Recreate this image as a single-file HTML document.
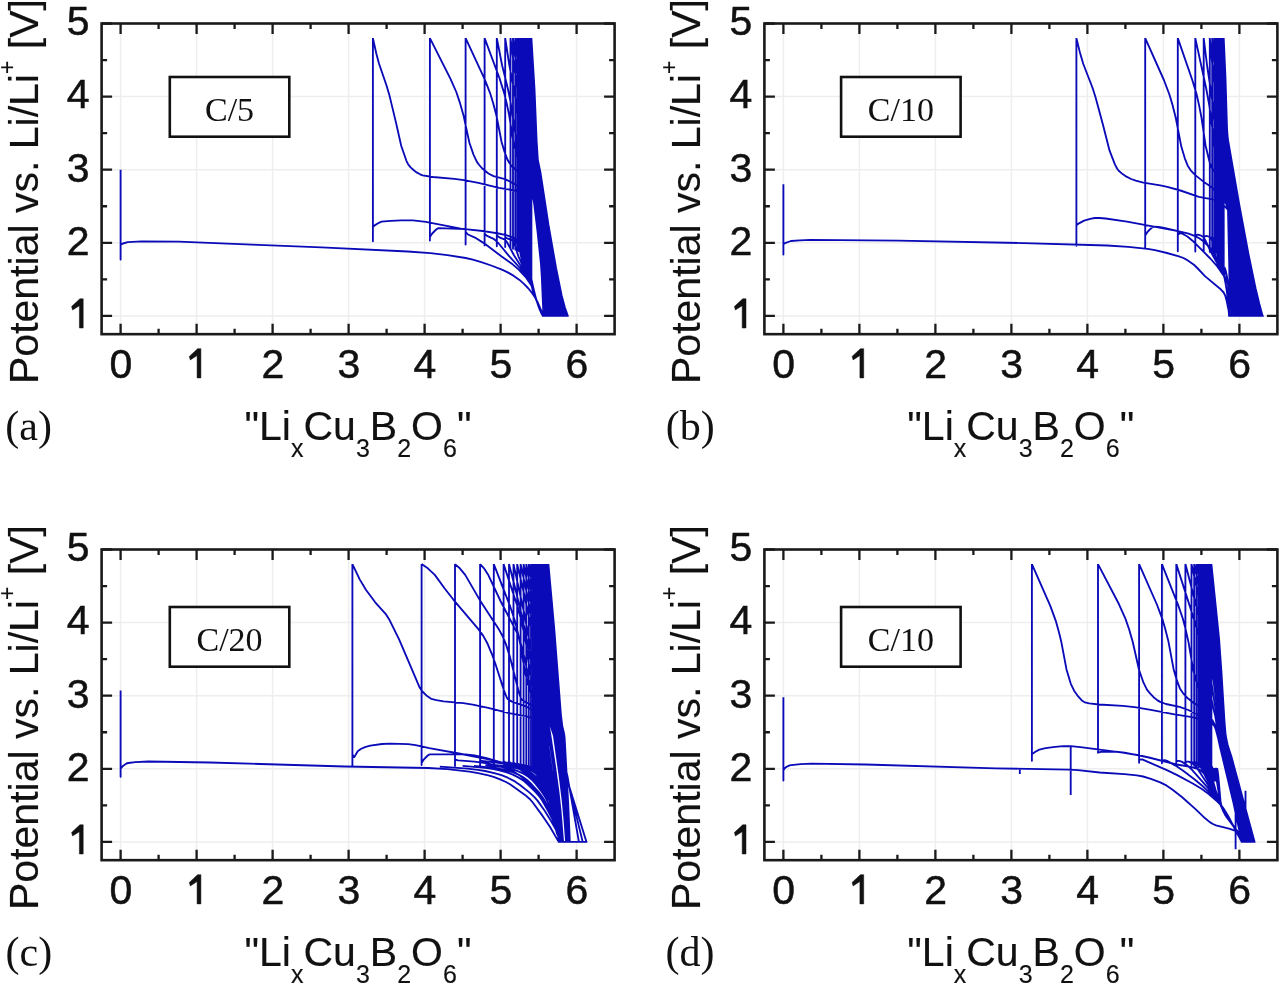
<!DOCTYPE html>
<html><head><meta charset="utf-8"><style>
html,body{margin:0;padding:0;background:#fff;width:1280px;height:984px;overflow:hidden}
svg{display:block;filter:blur(0.5px)}
.tk{font-family:"Liberation Sans", sans-serif;font-size:41px;fill:#111;stroke:#111;stroke-width:0.5px}
.ax{font-family:"Liberation Sans", sans-serif;font-size:41px;fill:#111;stroke:#111;stroke-width:0.15px}
.pl{font-family:"Liberation Serif", serif;font-size:42px;fill:#111}
.bt{font-family:"Liberation Serif", serif;font-size:34px;fill:#111}
</style></head><body>
<svg width="1280" height="984" viewBox="0 0 1280 984">
<path d="M120.60 23.50V334.17M196.60 23.50V334.17M272.60 23.50V334.17M348.60 23.50V334.17M424.60 23.50V334.17M500.60 23.50V334.17M576.60 23.50V334.17M101.60 315.90H614.60M101.60 242.80H614.60M101.60 169.70H614.60M101.60 96.60H614.60" stroke="#eeeeee" stroke-width="1.5" fill="none"/>
<path d="M120.6 169.7L120.6 259.6L120.6 245.0L122.9 243.5L127.7 242.1L141.8 241.3L178.6 241.6L321.5 247.4L407.7 251.5L430.4 253.2L447.4 255.1L465.7 258.0L472.8 259.7L481.3 262.1L491.2 265.5L502.5 269.9L508.2 272.6L513.8 275.9L519.5 279.9L523.7 283.6L528.0 288.0L532.2 293.3L535.1 297.4L537.9 302.8L543.5 315.9L541.8 276.8L541.0 264.4L537.5 231.1L534.1 202.9L533.3 198.9L529.0 195.8L524.7 193.5L520.4 191.8L515.2 190.5L499.0 187.8L478.4 182.9L463.8 180.1L454.4 178.8L432.9 177.0L422.6 175.3L420.1 174.3L416.6 172.4L414.1 170.5L410.6 167.4L408.1 164.2L406.4 160.8L401.2 145.8L395.7 121.4L389.2 94.4L386.6 85.7L378.9 63.3L376.3 53.5L372.9 38.1M372.9 38.1L372.9 241.3L372.9 226.7L374.6 225.4L378.9 222.8L381.5 221.7L390.8 220.8L401.1 220.3L413.0 220.3L425.8 221.8L460.8 228.6L487.3 231.7L498.4 233.5L506.1 235.1L512.9 237.3L517.2 239.7L520.6 242.8L523.1 246.3L524.9 250.4L528.3 262.5L530.8 278.5L534.2 293.2L538.5 306.4L541.1 312.7L542.8 315.9L543.9 315.9L541.6 269.1L538.2 235.2L534.2 203.6L533.3 198.9L530.7 195.0L527.9 192.1L525.6 190.5L520.4 187.8L511.8 182.4L505.0 179.2L493.5 176.1L488.4 173.5L482.6 168.8L479.2 165.0L476.9 161.9L473.5 154.6L469.4 142.7L463.4 114.9L459.7 102.1L456.3 92.0L450.5 78.8L429.9 38.1M429.9 38.1L429.9 240.6L429.9 237.0L432.2 233.5L436.2 229.5L437.9 228.4L439.0 228.2L465.1 229.1L482.7 231.0L498.0 233.4L505.3 234.9L512.2 237.0L516.7 239.4L519.5 241.7L522.4 244.9L523.5 247.0L525.2 251.4L528.0 261.4L530.9 278.7L534.3 293.3L538.8 307.2L541.1 312.7L542.8 315.9L545.1 315.9L543.5 283.2L542.3 266.5L539.9 244.5L537.5 226.0L533.9 201.6L532.3 194.6L529.1 185.5L526.2 179.4L521.6 174.5L514.8 169.0L512.0 166.4L509.2 162.8L507.2 159.0L504.4 151.4L501.6 142.0L496.4 115.5L493.2 103.2L490.0 92.8L484.4 78.6L465.6 38.1M465.6 38.1L465.6 244.5L465.6 231.8L468.0 234.5L476.1 238.2L485.8 244.4L501.3 256.3L512.9 264.6L518.7 269.5L525.7 277.1L531.9 286.2L533.1 289.1L536.6 300.5L542.8 315.9L546.3 315.9L543.7 272.5L542.5 260.7L539.8 238.4L533.3 196.5L530.8 177.6L529.9 174.7L528.0 171.6L526.1 169.7L522.4 166.8L520.6 164.6L519.0 161.9L517.5 157.8L513.4 142.2L509.1 114.9L506.6 102.9L504.1 92.9L499.5 78.2L484.6 38.1M484.6 38.1L484.6 245.4L484.6 233.7L487.0 235.9L493.1 238.6L495.7 240.6L498.7 243.5L508.9 255.8L520.9 269.0L526.7 277.0L532.0 286.4L536.6 300.7L542.8 315.9L547.4 315.9L545.3 282.2L543.8 265.3L541.5 247.1L534.7 201.8L533.7 197.4L532.1 194.3L530.3 192.0L526.3 188.2L524.5 185.5L523.2 182.4L521.7 176.7L518.4 159.1L514.9 130.5L510.5 101.6L508.0 89.2L502.1 65.2L496.8 38.1M496.8 38.1L496.8 246.2L496.8 235.5L499.3 237.3L504.4 239.4L505.8 240.6L507.2 242.5L514.1 255.5L524.8 272.2L529.6 281.2L532.4 287.5L537.9 304.2L542.8 315.9L548.4 315.9L546.0 280.3L543.4 256.7L539.5 229.6L534.3 198.2L532.3 193.2L528.4 188.0L526.9 185.2L525.8 182.1L524.5 175.8L521.9 158.0L519.3 130.8L515.8 101.1L513.9 88.9L509.3 65.0L505.2 38.1M505.2 38.1L505.2 247.1L505.2 237.3L507.8 238.7L512.0 240.2L512.9 240.9L513.7 242.0L518.4 256.3L530.5 282.7L537.1 302.0L542.8 315.9L549.4 315.9L547.5 288.0L545.7 269.6L541.4 238.6L534.8 198.7L533.0 193.0L529.7 187.5L528.5 184.9L527.5 181.6L526.5 176.2L524.4 158.9L522.0 129.7L519.1 99.6L513.8 64.4L510.5 38.1M510.5 38.1L510.5 247.9L510.5 239.1L516.2 240.9L518.3 242.3L519.1 245.5L520.9 256.1L523.1 263.9L531.1 284.1L537.9 304.1L542.8 315.9L550.4 315.9L547.2 276.6L542.5 242.6L535.2 199.0L533.5 192.7L530.3 186.7L529.2 183.9L527.5 175.5L525.4 156.9L523.4 129.0L520.9 100.5L516.0 64.3L513.0 38.1M513.0 38.1L513.0 248.8L513.0 241.0L517.8 241.7L520.7 243.4L522.3 257.4L524.8 267.8L526.6 273.0L531.1 284.1L537.4 302.8L542.8 315.9L551.4 315.9L548.8 285.7L547.0 269.6L543.9 248.4L535.8 200.0L534.0 192.3L530.0 183.3L528.5 175.9L526.5 156.6L524.7 128.9L522.4 99.5L518.0 64.1L515.3 38.1M515.3 38.1L515.3 249.6L515.3 242.8L517.5 242.6L519.7 242.8L521.4 243.5L522.9 244.7L523.5 258.7L524.7 265.9L526.1 272.0L527.6 276.4L531.0 283.8L536.7 300.9L542.8 315.9L552.3 315.9L550.7 297.5L547.3 267.8L540.1 222.6L535.0 194.4L533.8 190.3L530.8 183.1L529.4 176.0L527.5 155.7L523.6 98.1L519.7 63.9L517.3 38.1M517.3 38.1L517.3 250.5L517.3 244.6L518.7 243.9L519.6 243.9L520.0 244.2L521.0 247.0L523.4 257.5L523.9 258.8L524.5 259.4L524.8 246.4L524.9 246.1L525.1 246.2L525.6 247.1L527.1 254.3L530.3 278.1L531.8 285.9L533.7 292.4L536.9 301.4L542.8 315.9L553.1 315.9L549.4 278.8L544.0 243.2L535.6 195.2L534.4 190.4L531.4 182.2L530.2 175.7L528.4 156.8L524.8 98.4L521.2 63.6L519.0 38.1M519.0 38.1L519.0 251.3L519.0 246.5L520.1 245.4L521.5 245.4L522.5 248.3L524.5 258.4L525.4 260.1L526.4 248.3L526.6 247.4L527.0 248.0L528.2 254.8L530.6 277.9L531.8 285.9L534.3 294.5L539.3 307.7L542.8 315.9L554.0 315.9L550.1 280.1L544.9 245.7L536.0 195.0L534.6 189.3L532.0 181.6L530.8 175.0L529.1 154.6L525.9 98.3L522.6 63.4L520.5 38.1M520.5 38.1L520.5 252.2L520.5 248.3L527.1 270.9L534.5 294.5L538.6 306.0L542.8 315.9L554.8 315.9L550.8 281.2L545.5 246.9L536.3 194.3L534.9 188.5L532.5 180.9L531.5 175.2L529.8 154.3L526.8 97.9L521.9 38.1M521.9 38.1L521.9 253.0L521.9 250.1L528.1 273.4L534.5 294.5L538.7 306.1L542.8 315.9L555.5 315.9L551.5 282.2L546.1 247.9L536.6 194.1L535.3 188.0L533.0 180.6L532.0 175.0L530.4 153.1L527.6 97.0L523.1 38.1M523.1 38.1L523.1 253.0L523.1 250.1L528.0 272.0L533.1 290.3L537.9 304.2L542.8 315.9L556.3 315.9L552.1 283.0L546.7 249.6L536.9 193.5L535.6 187.3L533.5 180.0L532.5 174.3L531.1 154.1L528.3 95.6L524.1 38.1M524.1 38.1L524.1 253.0L524.1 250.1L528.3 271.8L532.5 288.4L537.6 303.3L542.8 315.9L557.0 315.9L552.7 283.7L547.2 250.0L537.2 193.4L535.8 186.2L533.9 179.2L533.1 174.6L531.6 154.3L529.0 96.2L525.0 38.1M525.0 38.1L525.0 253.0L525.0 250.1L528.8 272.4L532.3 287.7L537.5 303.1L542.8 315.9L557.7 315.9L553.2 284.3L547.8 251.2L537.5 192.9L536.1 185.6L534.2 178.2L533.4 173.0L531.9 150.4L529.7 96.6L525.8 38.1M525.8 38.1L525.8 253.0L525.8 250.1L529.2 272.9L532.2 287.7L537.6 303.3L542.8 315.9L558.3 315.9L553.7 284.8L548.1 251.3L537.7 192.1L536.3 184.7L534.5 177.6L533.7 172.5L532.5 152.4L530.1 94.5L526.5 38.1M526.5 38.1L526.5 253.0L526.5 250.1L529.6 273.9L532.2 287.6L533.9 293.3L537.6 303.2L542.8 315.9L559.0 315.9L554.0 284.2L547.8 247.5L537.7 190.1L534.2 172.8L532.8 150.1L530.6 94.2L527.2 38.1M527.2 38.1L527.2 253.0L527.2 250.1L529.8 274.3L532.1 287.4L534.4 294.7L539.4 308.0L542.8 315.9L559.6 315.9L547.1 241.7L538.0 189.6L534.4 171.6L533.2 150.7L531.1 95.2L527.7 38.1M527.7 38.1L527.7 253.0L527.7 250.1L530.4 277.6L532.1 287.5L534.2 294.4L539.5 308.1L542.8 315.9L560.2 315.9L538.6 191.5L534.8 171.2L533.5 150.6L531.4 94.0L528.2 38.1M528.2 38.1L528.2 253.0L528.2 250.1L530.6 278.0L532.1 287.4L534.1 294.1L542.8 315.9L560.7 315.9L538.3 187.7L535.0 170.4L533.8 149.9L531.7 93.2L528.6 38.1M528.6 38.1L528.6 253.0L528.6 250.1L530.8 279.0L532.1 287.6L534.0 293.9L542.8 315.9L561.3 315.9L535.3 169.7L534.0 148.6L532.1 93.7L529.0 38.1M529.0 38.1L529.0 253.0L529.0 250.1L530.9 279.1L532.1 287.7L533.9 294.0L542.8 315.9L561.8 315.9L554.4 276.9L535.5 168.9L534.3 149.0L532.3 92.6L529.3 38.1M529.3 38.1L529.3 256.0L531.1 280.3L532.2 288.3L533.9 294.0L542.8 315.9L562.3 315.9L554.4 275.1L535.7 168.2L534.5 148.4L532.6 92.3L529.6 38.1M529.6 38.1L529.6 259.6L531.3 282.1L532.4 289.0L533.9 294.1L542.8 315.9L562.7 315.9L558.4 295.2L554.5 274.2L535.9 167.5L534.7 145.8L532.9 93.0L529.9 38.1M529.9 38.1L529.9 262.7L531.4 282.9L532.5 289.6L534.0 294.2L542.8 315.9L563.2 315.9L558.7 295.0L554.6 273.1L536.1 167.0L534.9 146.8L533.0 91.7L530.1 38.1M530.1 38.1L530.1 265.5L531.4 283.5L532.7 290.1L534.0 294.3L542.8 315.9L563.6 315.9L559.1 295.6L554.9 273.9L536.3 166.8L535.1 146.7L533.2 91.4L530.3 38.1M530.3 38.1L530.3 268.0L531.6 284.5L532.8 290.5L533.9 294.2L542.8 315.9L564.1 315.9L558.8 292.9L553.8 266.3L536.4 165.5L535.3 146.1L533.4 91.2L530.5 38.1M530.5 38.1L530.5 270.1L531.6 284.7L532.8 290.9L533.9 294.3L542.8 315.9L564.5 315.9L559.2 293.4L553.9 266.0L546.8 225.3L539.1 178.6L536.6 164.9L535.4 144.2L533.5 90.9L530.6 38.1M530.6 38.1L530.6 272.0L531.6 284.8L532.9 291.1L534.0 294.4L542.8 315.9L564.9 315.9L559.4 293.1L554.2 266.5L547.0 225.6L539.3 178.2L536.8 164.6L535.6 144.3L533.7 90.9L530.8 38.1M530.8 38.1L530.8 273.7L531.7 285.3L533.0 291.6L542.8 315.9L565.2 315.9L559.7 293.6L554.5 267.0L547.3 225.8L539.5 177.7L536.9 164.2L535.7 144.2L533.8 90.9L530.9 38.1M530.9 38.1L530.9 275.2L531.7 285.7L533.0 291.7L542.8 315.9L565.6 315.9L560.0 294.0L554.8 267.5L547.3 225.0L539.7 177.3L537.1 163.7L535.9 144.0L533.9 90.8L531.0 38.1M531.0 38.1L531.0 276.4L531.7 285.5L533.1 292.0L542.8 315.9L565.9 315.9L563.3 306.7L560.3 294.5L554.9 267.0L547.5 225.1L539.8 176.7L537.1 162.6L536.0 143.6L534.1 90.7L531.1 38.1M531.1 38.1L531.1 277.6L534.2 291.8L536.2 299.4L539.8 309.9L542.8 315.9L566.3 315.9L563.6 306.9L560.6 294.8L555.2 267.4L547.7 225.2L540.0 176.2L537.3 162.0L536.1 143.2L534.2 90.5L531.2 38.1M531.2 38.1L531.2 278.6L534.3 292.3L536.2 299.6L539.8 309.8L542.8 315.9L566.6 315.9L563.9 307.1L560.9 295.2L555.4 267.8L547.9 225.3L540.1 175.7L537.4 161.5L536.2 142.7L534.3 90.2L531.2 38.1M531.2 38.1L531.2 279.5L536.3 299.7L539.8 309.8L542.8 315.9L566.9 315.9L564.2 307.3L561.2 295.5L555.6 268.2L548.1 225.4L540.2 175.1L537.5 161.0L536.3 142.3L534.3 90.0L531.3 38.1M531.3 38.1L531.3 280.2L536.3 299.8L539.8 309.8L542.8 315.9L567.2 315.9L564.5 307.5L561.4 295.9L555.8 268.5L548.3 225.5L540.4 174.5L537.6 160.5L536.4 141.7L534.4 89.7L531.4 38.1M531.4 38.1L531.4 280.9L536.4 299.9L539.8 309.6L542.8 315.9L567.5 315.9L564.8 307.6L561.7 296.2L556.1 268.8L548.4 225.5L540.5 173.9L537.7 160.1L536.5 141.1L534.5 89.4L531.4 38.1M531.4 38.1L531.4 281.5L536.4 300.2L539.9 309.7L542.8 315.9L567.8 315.9L564.8 307.2L561.7 295.7L556.1 268.2L548.4 224.4L540.6 173.3L537.8 159.6L536.6 140.5L534.5 89.1L531.4 38.1M531.4 38.1L531.4 282.1L536.5 300.4L539.9 309.7L542.8 315.9L568.0 315.9" fill="none" stroke="#0a0ab8" stroke-width="1.85" stroke-linejoin="round"/>
<path d="M120.60 334.17v-10.5M120.60 23.50v10.5M158.60 334.17v-5.5M158.60 23.50v5.5M196.60 334.17v-10.5M196.60 23.50v10.5M234.60 334.17v-5.5M234.60 23.50v5.5M272.60 334.17v-10.5M272.60 23.50v10.5M310.60 334.17v-5.5M310.60 23.50v5.5M348.60 334.17v-10.5M348.60 23.50v10.5M386.60 334.17v-5.5M386.60 23.50v5.5M424.60 334.17v-10.5M424.60 23.50v10.5M462.60 334.17v-5.5M462.60 23.50v5.5M500.60 334.17v-10.5M500.60 23.50v10.5M538.60 334.17v-5.5M538.60 23.50v5.5M576.60 334.17v-10.5M576.60 23.50v10.5M101.60 315.90h10.5M614.60 315.90h-10.5M101.60 279.35h5.5M614.60 279.35h-5.5M101.60 242.80h10.5M614.60 242.80h-10.5M101.60 206.25h5.5M614.60 206.25h-5.5M101.60 169.70h10.5M614.60 169.70h-10.5M101.60 133.15h5.5M614.60 133.15h-5.5M101.60 96.60h10.5M614.60 96.60h-10.5M101.60 60.05h5.5M614.60 60.05h-5.5M101.60 23.50h10.5M614.60 23.50h-10.5" stroke="#1a1a1a" stroke-width="2.3" fill="none"/>
<rect x="101.60" y="23.50" width="513.00" height="310.67" stroke="#1a1a1a" stroke-width="2.6" fill="none"/>
<path d="M83.20 298.80L83.20 328.00L79.40 328.00L79.40 305.70L72.60 310.00L71.60 306.50L79.90 298.80Z" fill="#111" stroke="#111" stroke-width="0.5" stroke-linejoin="round"/>
<text x="89.60" y="254.60" text-anchor="end" class="tk">2</text>
<text x="89.60" y="181.50" text-anchor="end" class="tk">3</text>
<text x="89.60" y="108.40" text-anchor="end" class="tk">4</text>
<text x="89.60" y="35.30" text-anchor="end" class="tk">5</text>
<text x="120.90" y="377.60" text-anchor="middle" class="tk">0</text>
<path d="M200.90 348.70L200.90 377.90L197.10 377.90L197.10 355.60L190.30 359.90L189.30 356.40L197.60 348.70Z" fill="#111" stroke="#111" stroke-width="0.5" stroke-linejoin="round"/>
<text x="272.90" y="377.60" text-anchor="middle" class="tk">2</text>
<text x="348.90" y="377.60" text-anchor="middle" class="tk">3</text>
<text x="424.90" y="377.60" text-anchor="middle" class="tk">4</text>
<text x="500.90" y="377.60" text-anchor="middle" class="tk">5</text>
<text x="576.90" y="377.60" text-anchor="middle" class="tk">6</text>
<text transform="translate(37.50,384.00) rotate(-90)" class="ax">Potential vs. Li/Li<tspan dy="-23" font-size="23">+</tspan><tspan dy="23"> [V]</tspan></text>
<text x="244.50" y="440.00" class="ax">"Li<tspan dy="17" font-size="25">x</tspan><tspan dy="-17">Cu</tspan><tspan dy="17" font-size="25">3</tspan><tspan dy="-17">B</tspan><tspan dy="17" font-size="25">2</tspan><tspan dy="-17">O</tspan><tspan dy="17" font-size="25">6</tspan><tspan dy="-17">"</tspan></text>
<text x="5.30" y="440.00" class="pl">(a)</text>
<rect x="169.80" y="77.00" width="119.5" height="59.7" fill="#fff" stroke="#111" stroke-width="2.6"/>
<text x="229.55" y="120.60" text-anchor="middle" class="bt">C/5</text>
<path d="M783.40 23.50V334.17M859.40 23.50V334.17M935.40 23.50V334.17M1011.40 23.50V334.17M1087.40 23.50V334.17M1163.40 23.50V334.17M1239.40 23.50V334.17M764.40 315.90H1277.40M764.40 242.80H1277.40M764.40 169.70H1277.40M764.40 96.60H1277.40" stroke="#eeeeee" stroke-width="1.5" fill="none"/>
<path d="M783.4 184.3L783.4 254.5L783.4 244.3L785.7 242.8L790.9 241.0L799.8 240.3L810.3 239.9L898.3 240.7L1023.7 243.1L1107.3 245.5L1128.2 246.9L1147.6 248.9L1155.0 250.2L1167.0 253.0L1178.9 256.3L1183.4 258.0L1186.4 259.6L1193.9 264.8L1196.8 267.5L1205.2 276.4L1220.7 289.3L1223.7 292.5L1225.2 295.6L1226.7 301.0L1229.7 315.9L1229.3 268.5L1228.0 209.9L1225.1 206.6L1222.0 203.9L1218.9 201.9L1215.0 200.3L1211.2 199.2L1198.9 196.8L1180.4 190.5L1167.3 186.8L1160.3 185.3L1143.4 182.6L1135.7 180.7L1131.1 179.0L1126.5 176.7L1122.6 174.1L1118.7 170.8L1117.2 168.8L1114.9 164.4L1109.5 150.4L1102.9 124.5L1095.6 97.5L1092.6 88.0L1083.3 64.0L1080.2 53.6L1076.4 38.1M1076.4 38.1L1076.4 245.7L1076.4 225.3L1079.4 223.1L1084.1 220.6L1090.2 218.8L1094.8 218.0L1099.4 218.0L1105.6 218.5L1127.0 221.6L1175.4 230.6L1187.7 233.4L1195.4 236.2L1199.2 238.3L1203.0 241.0L1209.9 247.5L1212.3 250.6L1215.3 255.7L1221.5 268.2L1224.2 276.4L1226.1 286.0L1227.6 297.6L1229.1 315.9L1229.9 315.9L1229.5 265.3L1228.2 214.4L1228.0 209.9L1227.3 207.4L1226.1 203.8L1224.4 200.8L1219.7 196.7L1213.3 189.0L1209.9 185.9L1203.1 181.4L1195.0 174.9L1190.7 170.3L1187.7 165.7L1184.8 158.3L1181.3 146.6L1175.8 118.0L1172.4 104.5L1169.4 94.5L1163.9 80.0L1145.2 38.1M1145.2 38.1L1145.2 248.6L1145.2 235.5L1147.3 232.2L1149.8 229.5L1152.3 227.4L1154.0 226.7L1158.7 227.0L1164.2 227.8L1188.6 233.7L1196.2 236.6L1199.6 238.5L1203.4 241.3L1209.3 246.8L1212.7 251.3L1219.4 263.7L1222.8 271.8L1224.9 279.5L1226.6 289.7L1227.9 300.0L1229.1 315.9L1231.8 315.9L1231.3 278.7L1230.7 258.9L1229.1 225.8L1228.0 209.0L1226.7 199.3L1224.5 188.4L1222.3 181.5L1219.6 177.2L1214.7 172.3L1212.8 169.8L1211.2 166.8L1209.6 162.2L1205.5 145.2L1201.5 117.8L1199.0 104.9L1196.6 94.3L1192.2 79.7L1177.8 38.1M1177.8 38.1L1177.8 251.3L1177.8 234.8L1179.9 233.2L1182.0 233.5L1187.4 236.5L1192.5 240.7L1210.3 258.5L1217.3 266.4L1226.0 278.9L1227.1 281.1L1227.9 283.8L1228.4 288.2L1229.1 315.9L1233.7 315.9L1232.3 264.3L1230.8 239.5L1228.3 208.9L1227.5 205.4L1226.2 201.8L1222.3 196.3L1221.1 194.0L1219.0 186.2L1215.9 166.0L1212.9 132.7L1209.2 104.8L1206.1 88.0L1195.3 38.1M1195.3 38.1L1195.3 251.5L1195.3 236.2L1196.8 234.8L1198.0 234.6L1200.4 235.3L1203.3 237.0L1205.3 240.2L1210.8 251.9L1220.0 268.3L1224.4 276.8L1226.6 280.1L1227.8 283.5L1228.3 286.7L1229.1 315.9L1235.5 315.9L1234.0 271.0L1231.7 238.8L1228.1 205.6L1226.5 200.9L1223.5 196.2L1222.2 193.4L1221.1 189.3L1220.0 182.4L1217.9 164.5L1215.7 135.6L1212.8 105.1L1211.2 92.5L1207.2 66.5L1203.7 38.1M1203.7 38.1L1203.7 251.7L1203.7 237.7L1205.3 236.1L1206.9 236.0L1209.7 237.0L1211.3 238.1L1211.6 238.7L1213.8 250.2L1216.3 258.2L1218.9 264.7L1224.3 276.6L1226.8 280.7L1228.0 284.4L1228.5 291.8L1229.1 315.9L1237.3 315.9L1235.2 267.2L1232.6 238.8L1228.6 205.5L1227.3 200.1L1224.7 194.2L1223.7 191.3L1222.2 182.0L1220.5 163.9L1216.5 103.2L1212.4 65.9L1209.8 38.1M1209.8 38.1L1209.8 251.9L1209.8 239.1L1210.3 238.2L1211.8 237.3L1212.3 237.4L1212.7 238.0L1215.7 249.2L1216.9 251.5L1217.4 239.5L1217.8 239.9L1218.3 241.2L1219.7 247.9L1223.7 274.5L1224.8 277.8L1227.1 281.4L1228.2 285.3L1229.1 315.9L1239.0 315.9L1237.2 278.2L1236.2 263.7L1234.1 244.6L1229.0 205.6L1227.7 198.6L1224.3 188.9L1223.1 180.8L1221.5 160.8L1218.1 102.8L1214.5 65.6L1212.2 38.1M1212.2 38.1L1212.2 252.2L1212.2 240.6L1212.8 239.5L1214.0 238.7L1214.6 238.7L1214.9 239.2L1217.3 250.3L1218.2 252.3L1218.6 250.6L1219.6 241.4L1219.9 240.9L1220.2 241.6L1221.1 247.8L1224.0 275.3L1224.9 278.3L1227.2 281.7L1228.2 285.6L1229.1 315.9L1240.7 315.9L1239.7 297.3L1237.8 267.9L1233.9 235.3L1228.6 199.7L1227.5 195.0L1225.1 187.7L1223.9 180.1L1222.5 160.8L1219.4 101.7L1214.3 38.1M1214.3 38.1L1214.3 252.4L1214.3 242.1L1217.8 256.5L1221.4 268.6L1224.4 276.8L1226.8 280.7L1227.9 283.9L1228.4 288.8L1229.1 315.9L1242.3 315.9L1239.9 278.8L1237.4 255.1L1233.8 229.0L1229.5 201.5L1228.0 193.7L1225.5 184.7L1224.6 178.3L1223.1 156.7L1220.4 99.7L1215.9 38.1M1215.9 38.1L1215.9 252.6L1215.9 243.5L1219.0 258.0L1222.0 269.8L1224.4 276.9L1226.9 280.9L1228.1 284.8L1229.1 315.9L1243.9 315.9L1241.4 281.1L1238.8 258.4L1232.2 213.9L1228.7 193.9L1226.0 182.9L1225.1 176.6L1223.8 155.6L1221.4 98.5L1217.3 38.1M1217.3 38.1L1217.3 252.8L1217.3 245.0L1220.1 260.1L1222.6 271.2L1224.4 277.0L1226.9 281.1L1228.2 285.2L1229.1 315.9L1245.5 315.9L1242.6 281.6L1239.9 259.1L1233.3 216.3L1229.2 193.3L1226.4 180.3L1225.6 174.9L1224.3 155.0L1222.0 96.0L1218.5 38.1M1218.5 38.1L1218.5 253.0L1218.5 246.5L1220.9 261.9L1223.1 272.5L1224.4 277.1L1227.0 281.2L1228.2 285.2L1229.1 315.9L1247.0 315.9L1244.1 284.4L1241.2 261.3L1234.7 220.4L1229.2 189.6L1226.7 177.7L1225.8 171.8L1224.7 152.2L1222.7 94.7L1219.5 38.1M1219.5 38.1L1219.5 253.0L1219.5 246.5L1221.6 262.8L1223.4 273.4L1224.5 277.4L1227.0 281.3L1228.2 285.3L1229.1 315.9L1248.5 315.9L1245.4 285.5L1242.3 262.3L1235.5 220.6L1226.2 170.1L1225.1 150.0L1223.2 93.1L1220.3 38.1M1220.3 38.1L1220.3 253.0L1220.3 246.5L1222.3 265.5L1224.0 275.6L1225.0 278.4L1227.1 281.6L1228.2 285.2L1229.1 315.9L1249.9 315.9L1246.6 286.5L1243.2 262.9L1236.5 222.7L1227.2 172.6L1226.4 167.0L1225.3 145.6L1223.6 91.8L1220.9 38.1M1220.9 38.1L1220.9 253.0L1220.9 246.5L1222.7 266.0L1224.0 275.8L1225.0 278.5L1227.2 281.8L1228.2 285.5L1229.1 315.9L1251.4 315.9L1247.8 287.3L1244.3 264.3L1237.7 225.4L1227.4 169.5L1226.6 163.9L1225.6 144.7L1224.0 90.5L1221.5 38.1M1221.5 38.1L1221.5 253.0L1221.5 246.5L1223.0 266.8L1224.1 275.9L1225.0 278.7L1227.2 281.9L1228.2 285.4L1229.1 315.9L1252.7 315.9L1248.9 288.0L1245.2 264.5L1238.1 224.1L1226.9 162.3L1225.8 141.8L1224.3 89.0L1222.0 38.1M1222.0 38.1L1222.0 253.4L1222.0 247.0L1223.2 267.3L1224.1 276.1L1225.1 278.9L1227.2 281.9L1228.2 285.6L1229.1 315.9L1254.1 315.9L1246.1 265.5L1227.1 160.0L1226.2 143.6L1224.6 88.6L1222.3 38.1M1222.3 38.1L1222.3 257.3L1222.3 252.0L1223.4 269.4L1224.2 276.2L1225.1 279.0L1227.2 281.9L1228.2 285.4L1229.1 315.9L1255.4 315.9L1247.2 267.2L1227.3 157.0L1226.4 144.2L1224.8 87.5L1222.7 38.1M1222.7 38.1L1222.7 260.6L1222.7 256.1L1224.2 276.4L1225.1 279.1L1227.3 282.0L1228.2 285.5L1229.1 315.9L1256.7 315.9L1230.2 170.7L1227.3 153.6L1226.5 139.3L1225.0 85.5L1222.9 38.1M1222.9 38.1L1222.9 263.3L1222.9 259.6L1224.2 276.6L1225.1 279.2L1227.3 282.1L1228.2 285.6L1229.1 315.9L1257.9 315.9L1245.3 249.6L1227.5 151.2L1226.6 137.7L1225.1 83.9L1223.1 38.1M1223.1 38.1L1223.1 265.5L1223.1 262.4L1224.3 277.0L1225.2 279.4L1227.2 282.0L1228.2 285.3L1229.1 315.9L1259.1 315.9L1252.8 285.7L1246.5 252.7L1227.6 148.4L1226.7 135.2L1225.3 84.6L1223.3 38.1M1223.3 38.1L1223.3 267.4L1223.3 264.8L1224.0 274.5L1224.4 277.4L1225.2 279.5L1227.2 282.0L1228.2 285.3L1229.1 315.9L1260.3 315.9L1253.8 286.9L1247.4 253.9L1238.3 204.9L1227.7 145.3L1226.8 132.0L1225.3 81.2L1223.5 38.1M1223.5 38.1L1223.5 268.9L1223.5 266.8L1223.9 267.0L1224.8 268.1L1225.6 270.3L1226.9 276.3L1228.1 284.9L1229.1 315.9L1261.5 315.9L1254.6 287.3L1248.0 254.1L1238.8 204.9L1227.8 142.1L1226.8 128.1L1225.5 81.8L1223.6 38.1M1223.6 38.1L1223.6 270.2L1223.6 268.4L1224.1 268.7L1225.0 269.8L1225.7 271.8L1227.0 277.2L1228.2 285.2L1229.1 315.9L1262.6 315.9L1259.3 303.7L1255.6 288.4L1248.5 254.1L1239.3 204.9L1227.8 138.7L1227.0 128.5L1225.5 78.6L1223.7 38.1M1223.7 38.1L1223.7 271.2L1223.7 269.8L1224.3 270.1L1225.8 273.0L1227.0 277.9L1228.2 285.2L1229.1 315.9L1263.7 315.9" fill="none" stroke="#0a0ab8" stroke-width="1.85" stroke-linejoin="round"/>
<path d="M783.40 334.17v-10.5M783.40 23.50v10.5M821.40 334.17v-5.5M821.40 23.50v5.5M859.40 334.17v-10.5M859.40 23.50v10.5M897.40 334.17v-5.5M897.40 23.50v5.5M935.40 334.17v-10.5M935.40 23.50v10.5M973.40 334.17v-5.5M973.40 23.50v5.5M1011.40 334.17v-10.5M1011.40 23.50v10.5M1049.40 334.17v-5.5M1049.40 23.50v5.5M1087.40 334.17v-10.5M1087.40 23.50v10.5M1125.40 334.17v-5.5M1125.40 23.50v5.5M1163.40 334.17v-10.5M1163.40 23.50v10.5M1201.40 334.17v-5.5M1201.40 23.50v5.5M1239.40 334.17v-10.5M1239.40 23.50v10.5M764.40 315.90h10.5M1277.40 315.90h-10.5M764.40 279.35h5.5M1277.40 279.35h-5.5M764.40 242.80h10.5M1277.40 242.80h-10.5M764.40 206.25h5.5M1277.40 206.25h-5.5M764.40 169.70h10.5M1277.40 169.70h-10.5M764.40 133.15h5.5M1277.40 133.15h-5.5M764.40 96.60h10.5M1277.40 96.60h-10.5M764.40 60.05h5.5M1277.40 60.05h-5.5M764.40 23.50h10.5M1277.40 23.50h-10.5" stroke="#1a1a1a" stroke-width="2.3" fill="none"/>
<rect x="764.40" y="23.50" width="513.00" height="310.67" stroke="#1a1a1a" stroke-width="2.6" fill="none"/>
<path d="M746.00 298.80L746.00 328.00L742.20 328.00L742.20 305.70L735.40 310.00L734.40 306.50L742.70 298.80Z" fill="#111" stroke="#111" stroke-width="0.5" stroke-linejoin="round"/>
<text x="752.40" y="254.60" text-anchor="end" class="tk">2</text>
<text x="752.40" y="181.50" text-anchor="end" class="tk">3</text>
<text x="752.40" y="108.40" text-anchor="end" class="tk">4</text>
<text x="752.40" y="35.30" text-anchor="end" class="tk">5</text>
<text x="783.70" y="377.60" text-anchor="middle" class="tk">0</text>
<path d="M863.70 348.70L863.70 377.90L859.90 377.90L859.90 355.60L853.10 359.90L852.10 356.40L860.40 348.70Z" fill="#111" stroke="#111" stroke-width="0.5" stroke-linejoin="round"/>
<text x="935.70" y="377.60" text-anchor="middle" class="tk">2</text>
<text x="1011.70" y="377.60" text-anchor="middle" class="tk">3</text>
<text x="1087.70" y="377.60" text-anchor="middle" class="tk">4</text>
<text x="1163.70" y="377.60" text-anchor="middle" class="tk">5</text>
<text x="1239.70" y="377.60" text-anchor="middle" class="tk">6</text>
<text transform="translate(700.30,384.00) rotate(-90)" class="ax">Potential vs. Li/Li<tspan dy="-23" font-size="23">+</tspan><tspan dy="23"> [V]</tspan></text>
<text x="907.30" y="440.00" class="ax">"Li<tspan dy="17" font-size="25">x</tspan><tspan dy="-17">Cu</tspan><tspan dy="17" font-size="25">3</tspan><tspan dy="-17">B</tspan><tspan dy="17" font-size="25">2</tspan><tspan dy="-17">O</tspan><tspan dy="17" font-size="25">6</tspan><tspan dy="-17">"</tspan></text>
<text x="665.80" y="440.00" class="pl">(b)</text>
<rect x="841.10" y="77.00" width="119.5" height="59.7" fill="#fff" stroke="#111" stroke-width="2.6"/>
<text x="900.85" y="120.60" text-anchor="middle" class="bt">C/10</text>
<path d="M120.60 549.50V860.17M196.60 549.50V860.17M272.60 549.50V860.17M348.60 549.50V860.17M424.60 549.50V860.17M500.60 549.50V860.17M576.60 549.50V860.17M101.60 841.90H614.60M101.60 768.80H614.60M101.60 695.70H614.60M101.60 622.60H614.60" stroke="#eeeeee" stroke-width="1.5" fill="none"/>
<path d="M120.6 690.6L120.6 776.8L120.6 768.8L122.9 765.9L126.5 763.5L128.2 763.0L135.3 762.2L148.4 761.5L210.0 762.5L344.8 766.5L428.3 768.0L447.4 769.2L469.4 771.6L478.1 773.1L488.4 775.4L494.3 777.1L500.1 779.3L506.0 782.0L510.4 784.5L525.0 794.9L529.4 798.7L532.4 802.0L542.6 815.9L549.9 826.8L558.7 841.9L556.7 816.7L554.6 797.4L551.5 774.7L545.3 733.4L544.2 726.9L543.5 724.9L540.1 722.3L535.9 719.8L531.8 718.0L526.6 716.4L509.0 713.1L488.2 707.8L472.7 704.6L463.3 703.2L443.6 701.3L436.4 700.1L431.2 698.8L427.1 696.1L421.9 691.0L419.8 687.8L399.1 639.3L389.7 620.3L385.6 613.8L375.2 602.3L365.9 589.8L359.7 579.4L352.4 564.1M352.4 564.1L352.4 766.6L352.4 754.2L353.5 756.7L353.9 757.1L354.5 756.8L357.7 751.3L360.8 749.0L365.0 747.1L370.3 745.6L381.9 744.0L390.3 743.6L408.3 744.2L415.6 745.1L429.3 748.2L458.9 753.5L487.3 759.0L502.1 762.6L514.7 766.5L523.2 770.1L528.4 773.4L534.8 779.0L540.0 785.4L544.2 793.5L549.5 806.3L553.8 820.0L556.8 833.1L560.1 840.1L561.1 841.4L562.2 841.9L559.9 841.9L557.1 809.1L555.0 791.5L546.0 729.7L545.3 726.2L543.9 722.9L542.5 720.6L540.4 718.0L533.5 711.3L530.0 708.5L525.8 706.4L511.9 701.6L507.7 699.0L506.4 696.7L504.3 691.4L495.2 663.3L491.8 653.8L487.6 643.8L483.4 636.1L478.6 629.4L453.5 599.8L444.5 588.2L434.8 574.9L427.8 568.3L421.6 564.1M421.6 564.1L421.6 765.1L421.6 763.0L423.7 759.6L427.2 756.0L428.6 754.9L430.0 754.3L465.4 754.3L474.5 755.4L486.6 758.2L512.0 765.5L518.4 767.9L524.0 770.6L529.0 773.8L533.9 778.1L538.8 783.7L541.7 788.3L546.6 799.0L550.9 810.2L553.8 820.0L556.8 833.1L560.0 840.1L561.5 841.7L562.2 841.9L561.7 841.9L558.8 807.5L555.2 779.3L548.3 731.7L547.2 726.0L546.1 722.9L543.4 717.4L539.7 711.7L537.0 708.3L533.3 705.7L524.2 701.3L522.0 699.8L520.9 698.4L518.8 692.0L509.7 656.1L505.9 644.1L502.7 636.3L499.0 629.6L479.7 599.9L465.2 574.9L459.8 568.3L455.0 564.1M455.0 564.1L455.0 765.9L455.0 759.2L456.5 760.0L458.2 760.3L474.4 761.7L485.7 763.1L495.9 765.1L506.7 768.5L513.2 771.4L520.2 775.7L524.5 779.3L533.6 788.3L537.4 792.6L540.6 797.1L547.1 808.5L551.9 818.1L557.3 830.0L562.2 841.9L563.1 841.9L560.6 811.3L558.6 792.8L554.8 764.8L549.8 731.4L548.1 722.4L546.0 713.9L543.9 707.7L541.9 704.1L539.8 702.1L534.8 699.4L533.4 698.0L532.7 696.6L531.0 690.2L525.2 661.0L523.1 652.0L520.1 641.0L517.2 633.1L500.5 601.0L488.0 574.4L483.8 568.1L480.1 564.1M480.1 564.1L480.1 766.2L480.1 759.9L481.3 760.7L482.6 761.0L496.2 762.6L504.4 763.9L511.8 766.0L519.7 769.1L524.6 772.1L530.0 776.3L533.3 779.9L540.3 788.8L543.2 793.0L545.7 797.5L550.6 808.8L554.3 818.3L562.2 841.9L586.5 841.9L566.9 778.9L557.6 746.5L546.9 715.0L545.0 710.3L543.1 706.6L540.4 703.1L535.7 698.9L533.4 696.3L531.0 692.6L529.2 687.8L525.0 672.2L520.3 644.0L517.5 631.1L514.7 620.3L510.1 606.2L493.8 564.1M493.8 564.1L493.8 766.6L493.8 760.6L495.1 761.4L496.2 761.7L508.2 763.5L514.7 764.8L520.9 766.9L527.1 770.0L531.2 773.0L535.7 777.3L538.4 780.9L543.9 789.3L546.3 793.5L548.4 797.9L555.6 818.5L562.2 841.9L582.7 841.9L564.4 767.0L559.6 749.2L554.5 732.0L548.9 715.1L546.1 708.0L543.8 704.0L539.0 698.8L537.0 696.1L535.4 693.1L533.8 688.5L529.9 671.0L526.1 643.8L521.5 620.9L517.5 606.5L503.6 564.1M503.6 564.1L503.6 767.0L503.6 761.2L504.8 762.1L506.0 762.4L516.3 764.3L521.6 765.5L526.9 767.6L532.2 770.6L535.7 773.6L539.5 777.9L546.6 789.8L550.4 798.3L556.6 818.7L562.2 841.9L566.1 841.9L564.4 819.2L562.7 801.1L559.8 777.3L552.6 726.4L550.9 718.6L548.6 711.2L547.7 709.4L544.3 705.1L541.4 700.4L539.7 696.5L538.0 690.8L534.0 674.0L522.2 617.4L515.3 588.7L509.0 564.1M509.0 564.1L509.0 767.3L509.0 761.9L511.1 763.1L521.0 765.1L525.5 766.3L530.1 768.3L534.9 771.3L538.1 774.2L541.6 778.5L548.0 790.3L551.5 798.7L557.1 819.0L562.2 841.9L578.9 841.9L567.4 775.9L563.4 759.4L554.2 729.7L547.7 711.9L545.1 705.9L541.4 699.3L539.5 693.1L535.5 674.7L524.7 615.5L513.5 564.1M513.5 564.1L513.5 767.7L513.5 762.6L515.5 763.8L525.0 765.9L528.9 767.1L533.1 769.1L537.2 771.9L540.2 774.9L543.3 779.1L549.2 790.7L552.4 799.1L557.5 819.2L562.2 841.9L567.3 841.9L565.6 818.1L563.8 799.5L555.3 731.2L554.7 728.4L553.7 725.4L550.2 719.8L549.2 717.5L546.4 707.4L542.7 689.5L530.8 625.7L523.8 592.7L517.2 564.1M517.2 564.1L517.2 768.1L517.2 763.3L519.3 764.6L528.1 766.7L531.7 767.9L535.5 769.9L539.4 772.8L542.1 775.8L544.8 779.6L550.2 791.2L553.1 799.5L557.9 819.4L562.2 841.9L567.8 841.9L565.9 816.2L564.2 798.8L555.9 731.2L554.5 725.7L550.4 718.1L547.9 708.2L544.1 688.8L533.2 625.4L526.8 593.1L520.6 564.1M520.6 564.1L520.6 768.4L520.6 763.9L522.7 765.4L530.8 767.5L534.2 768.7L537.7 770.8L541.1 773.4L543.6 776.4L546.1 780.2L551.1 791.7L553.8 799.9L558.2 819.6L562.2 841.9L568.1 841.9L564.8 800.2L556.7 732.7L555.4 726.5L552.3 720.5L551.1 717.6L548.9 707.8L545.5 689.4L535.2 625.1L529.2 592.4L523.6 564.1M523.6 564.1L523.6 768.8L523.6 764.6L525.5 766.1L533.3 768.2L536.4 769.5L539.5 771.4L542.6 774.1L544.9 777.0L547.2 780.8L551.9 792.2L554.4 800.3L558.5 819.8L562.2 841.9L568.4 841.9L565.3 801.4L557.4 734.1L556.4 728.0L555.3 725.1L552.4 718.9L550.0 708.5L546.9 689.8L537.3 626.0L526.3 564.1M526.3 564.1L526.3 769.2L526.3 765.3L528.3 766.8L535.5 769.0L538.4 770.3L541.3 772.3L544.0 774.8L546.1 777.6L548.3 781.4L552.6 792.6L555.0 800.7L558.7 820.0L562.2 841.9L568.7 841.9L565.5 800.6L558.0 735.3L556.8 728.1L553.2 719.5L551.0 709.1L548.0 690.2L539.0 625.6L528.8 564.1M528.8 564.1L528.8 769.5L528.8 766.0L530.8 767.6L537.5 769.8L540.2 771.1L542.9 773.1L545.4 775.6L547.2 778.3L549.2 782.0L553.3 793.1L555.4 801.1L559.0 820.2L562.2 841.9L568.9 841.9L566.4 807.8L562.8 772.7L558.0 731.7L556.9 726.8L553.8 719.4L551.9 709.6L549.1 690.5L540.7 626.4L531.0 564.1M531.0 564.1L531.0 769.9L531.0 766.7L533.0 768.4L539.3 770.6L541.8 771.9L544.1 773.7L546.5 776.3L550.1 782.6L553.9 793.6L555.9 801.5L559.2 820.4L562.2 841.9L569.0 841.9L566.8 810.5L564.0 781.0L558.5 732.5L557.4 727.3L554.5 719.7L552.7 710.0L550.0 690.6L542.0 625.9L532.9 564.1M532.9 564.1L532.9 770.3L532.9 767.3L535.2 769.2L540.7 771.2L543.2 772.7L545.4 774.6L547.5 776.9L550.9 783.2L554.4 794.1L556.3 801.9L559.4 820.7L562.2 841.9L569.2 841.9L567.4 816.0L565.5 794.4L559.0 733.0L557.9 727.8L555.1 720.0L553.4 710.2L550.8 690.6L543.4 626.6L534.7 564.1M534.7 564.1L534.7 770.3L534.7 767.3L536.8 769.1L542.0 771.2L544.4 772.7L546.4 774.6L548.4 776.9L551.5 783.2L554.9 794.1L556.6 801.9L559.5 820.7L562.2 841.9L569.3 841.9L566.1 798.8L559.3 733.3L558.4 728.1L555.7 720.2L554.0 710.2L551.7 691.8L544.4 625.8L536.3 564.1M536.3 564.1L536.3 770.3L536.3 767.3L538.4 769.1L543.2 771.2L545.4 772.7L549.2 776.9L552.2 783.2L555.3 794.1L557.0 801.9L559.7 820.7L562.2 841.9L569.4 841.9L566.7 803.1L559.8 734.6L558.9 728.9L556.2 720.3L554.6 710.0L552.4 691.4L545.6 626.4L537.8 564.1M537.8 564.1L537.8 770.3L537.8 767.3L539.7 769.1L544.3 771.2L546.4 772.7L549.9 776.9L552.7 783.2L555.7 794.1L557.3 801.9L559.8 820.7L562.2 841.9L569.4 841.9L567.0 805.4L560.1 734.4L559.2 729.0L556.8 720.9L555.3 710.9L553.1 692.3L546.6 626.8L539.1 564.1M539.1 564.1L539.1 770.3L539.1 767.3L540.9 769.0L545.1 771.1L547.1 772.6L550.6 776.9L553.2 783.2L556.0 794.1L557.5 801.9L560.0 820.7L562.2 841.9L569.5 841.9L567.3 807.7L560.5 735.3L559.7 729.6L557.2 721.2L555.8 711.6L553.6 691.5L547.4 627.1L540.2 564.1M540.2 564.1L540.2 770.3L540.2 767.3L542.1 769.1L546.0 771.1L547.8 772.6L551.1 776.9L553.7 783.2L556.3 794.1L557.8 801.9L560.1 820.7L562.2 841.9L569.6 841.9L567.4 808.1L560.9 735.8L560.0 730.1L557.6 721.3L556.2 710.8L548.3 627.3L541.3 564.1M541.3 564.1L541.3 770.3L541.3 767.3L543.1 769.0L546.7 771.1L548.5 772.6L551.7 776.9L554.1 783.2L556.6 794.1L558.0 801.9L560.2 820.7L562.2 841.9L569.6 841.9L567.7 810.2L561.2 736.1L560.4 730.4L558.0 721.6L556.7 711.1L549.0 627.4L542.2 564.1M542.2 564.1L542.2 770.3L542.2 767.3L543.9 768.9L547.4 771.1L549.1 772.6L552.2 776.9L554.5 783.2L556.9 794.1L558.2 801.9L560.3 820.7L562.2 841.9L569.6 841.9L567.9 812.3L561.5 736.2L560.7 730.5L558.5 722.2L557.2 712.4L549.6 627.4L543.1 564.1M543.1 564.1L543.1 770.3L543.1 767.3L549.7 772.6L552.6 776.9L554.8 783.2L557.1 794.1L558.3 801.9L560.3 820.7L562.2 841.9L569.7 841.9L568.0 812.3L561.7 735.9L561.0 730.6L558.9 722.5L557.6 712.2L550.2 627.3L543.9 564.1M543.9 564.1L543.9 770.3L543.9 767.3L550.2 772.6L553.0 776.9L555.1 783.2L557.3 794.1L558.5 801.9L560.4 820.7L562.2 841.9L569.7 841.9L568.1 812.9L562.1 736.7L561.3 731.1L559.2 722.4L557.9 711.9L550.7 627.1L544.5 564.1M544.5 564.1L544.5 770.3L544.5 767.3L550.7 772.6L553.3 776.9L555.3 783.2L557.5 794.1L558.6 801.9L562.2 841.9L569.7 841.9L568.1 813.1L562.4 737.3L561.7 731.5L559.6 722.9L558.4 712.6L551.2 626.8L545.2 564.1M545.2 564.1L545.2 770.3L545.2 767.3L551.1 772.6L553.6 776.9L555.6 783.2L557.6 794.1L558.7 801.9L562.2 841.9L569.7 841.9L568.3 814.0L562.6 736.3L561.9 731.2L560.0 723.4L558.7 713.1L551.8 627.8L545.7 564.1M545.7 564.1L545.7 770.3L545.7 767.3L551.4 772.6L553.9 776.9L555.8 783.2L558.9 801.9L562.2 841.9L569.7 841.9L568.3 813.6L562.9 736.3L562.2 731.4L560.3 723.7L559.1 713.4L552.1 627.3L546.2 564.1M546.2 564.1L546.2 770.3L546.2 767.3L551.8 772.6L554.2 776.9L556.0 783.2L559.0 801.9L562.2 841.9L569.7 841.9L568.3 813.3L563.2 737.5L562.5 732.0L560.6 724.0L559.4 713.5L552.6 628.1L546.7 564.1M546.7 564.1L546.7 770.3L546.7 767.3L552.1 772.6L554.4 776.9L556.2 783.2L559.0 801.9L562.2 841.9L569.7 841.9L568.4 812.9L563.5 737.1L562.8 732.0L561.0 724.3L559.7 713.5L552.9 627.4L547.1 564.1M547.1 564.1L547.1 770.3L547.1 767.3L550.8 770.8L552.3 772.6L554.6 776.9L556.3 783.2L559.1 801.9L562.2 841.9L569.7 841.9L568.4 812.3L563.7 736.5L563.0 731.9L561.3 724.7L560.1 714.6L553.3 628.0L547.5 564.1M547.5 564.1L547.5 770.3L547.5 767.3L551.0 770.7L552.6 772.6L554.8 776.9L556.5 783.2L559.2 801.9L562.2 841.9L569.7 841.9L568.3 809.5L564.0 737.0L563.3 732.3L561.6 725.0L560.4 714.3L553.6 628.6L547.8 564.1M547.8 564.1L547.8 770.3L547.8 767.3L551.2 770.6L552.8 772.7L554.9 776.9L556.6 783.2L559.3 801.9L562.2 841.9L569.8 841.9L568.3 808.7L564.3 737.3L563.7 732.6L561.9 725.3L560.7 715.0L553.9 627.7L548.1 564.1M548.1 564.1L548.1 770.3L548.1 767.3L551.3 770.6L553.0 772.7L555.1 776.9L556.7 783.2L559.3 801.9L562.2 841.9L569.8 841.9L568.3 805.5L564.6 737.5L563.9 732.9L562.2 725.6L560.9 714.5L554.2 628.2L548.4 564.1M548.4 564.1L548.4 770.3L548.4 767.3L551.5 770.5L553.1 772.7L555.2 776.9L556.8 783.2L559.4 801.9L562.2 841.9L569.8 841.9M439.8 766.6L467.6 768.6L477.8 769.8L485.0 771.0L494.3 773.1L501.5 775.2L507.7 777.7L514.9 781.4L520.0 785.0L529.3 792.4L534.4 797.1L537.5 800.6L544.7 810.8L549.8 818.9L556.0 829.8L562.2 841.9M462.6 765.9L485.2 767.9L493.6 769.1L499.4 770.3L506.9 772.4L512.8 774.6L517.8 777.1L523.7 780.8L527.9 784.5L535.4 791.9L539.6 796.7L542.1 800.2L547.9 810.5L552.1 818.7L557.1 829.7L562.2 841.9M474.0 765.9L494.0 767.9L501.4 769.1L506.6 770.3L513.3 772.4L518.5 774.6L522.9 777.1L528.1 780.8L531.8 784.5L538.5 791.9L542.2 796.7L544.4 800.2L549.6 810.5L553.3 818.7L557.7 829.7L562.2 841.9M485.4 765.1L502.8 767.2L509.3 768.4L513.8 769.6L519.6 771.8L524.1 773.9L528.0 776.5L532.5 780.3L535.7 783.9L541.5 791.4L544.7 796.2L546.7 799.8L554.4 818.5L562.2 841.9M496.8 765.1L511.6 767.2L517.1 768.4L521.0 769.6L525.9 771.8L529.8 773.9L533.1 776.5L536.9 780.3L544.6 791.4L549.0 799.8L555.6 818.5L562.2 841.9M504.4 765.9L517.5 767.9L522.4 769.1L525.8 770.3L530.1 772.4L533.5 774.6L536.4 777.1L539.8 780.8L546.6 791.9L550.5 800.2L556.3 818.7L562.2 841.9M512.0 765.9L523.4 767.9L527.6 769.1L530.5 770.3L534.3 772.4L537.3 774.6L539.8 777.1L542.8 780.8L548.7 791.9L552.0 800.2L557.1 818.7L562.2 841.9M519.6 766.6L529.3 768.6L532.8 769.8L535.3 771.0L538.6 773.1L541.1 775.2L543.2 777.7L545.7 781.4L550.7 792.4L553.6 800.6L557.9 818.9L562.2 841.9M524.9 767.3L533.4 769.3L536.5 770.5L538.7 771.7L541.5 773.8L543.7 775.9L547.8 782.0L552.1 792.9L554.6 801.0L558.4 819.1L562.2 841.9" fill="none" stroke="#0a0ab8" stroke-width="1.85" stroke-linejoin="round"/>
<path d="M120.60 860.17v-10.5M120.60 549.50v10.5M158.60 860.17v-5.5M158.60 549.50v5.5M196.60 860.17v-10.5M196.60 549.50v10.5M234.60 860.17v-5.5M234.60 549.50v5.5M272.60 860.17v-10.5M272.60 549.50v10.5M310.60 860.17v-5.5M310.60 549.50v5.5M348.60 860.17v-10.5M348.60 549.50v10.5M386.60 860.17v-5.5M386.60 549.50v5.5M424.60 860.17v-10.5M424.60 549.50v10.5M462.60 860.17v-5.5M462.60 549.50v5.5M500.60 860.17v-10.5M500.60 549.50v10.5M538.60 860.17v-5.5M538.60 549.50v5.5M576.60 860.17v-10.5M576.60 549.50v10.5M101.60 841.90h10.5M614.60 841.90h-10.5M101.60 805.35h5.5M614.60 805.35h-5.5M101.60 768.80h10.5M614.60 768.80h-10.5M101.60 732.25h5.5M614.60 732.25h-5.5M101.60 695.70h10.5M614.60 695.70h-10.5M101.60 659.15h5.5M614.60 659.15h-5.5M101.60 622.60h10.5M614.60 622.60h-10.5M101.60 586.05h5.5M614.60 586.05h-5.5M101.60 549.50h10.5M614.60 549.50h-10.5" stroke="#1a1a1a" stroke-width="2.3" fill="none"/>
<rect x="101.60" y="549.50" width="513.00" height="310.67" stroke="#1a1a1a" stroke-width="2.6" fill="none"/>
<path d="M83.20 824.80L83.20 854.00L79.40 854.00L79.40 831.70L72.60 836.00L71.60 832.50L79.90 824.80Z" fill="#111" stroke="#111" stroke-width="0.5" stroke-linejoin="round"/>
<text x="89.60" y="780.60" text-anchor="end" class="tk">2</text>
<text x="89.60" y="707.50" text-anchor="end" class="tk">3</text>
<text x="89.60" y="634.40" text-anchor="end" class="tk">4</text>
<text x="89.60" y="561.30" text-anchor="end" class="tk">5</text>
<text x="120.90" y="903.60" text-anchor="middle" class="tk">0</text>
<path d="M200.90 874.70L200.90 903.90L197.10 903.90L197.10 881.60L190.30 885.90L189.30 882.40L197.60 874.70Z" fill="#111" stroke="#111" stroke-width="0.5" stroke-linejoin="round"/>
<text x="272.90" y="903.60" text-anchor="middle" class="tk">2</text>
<text x="348.90" y="903.60" text-anchor="middle" class="tk">3</text>
<text x="424.90" y="903.60" text-anchor="middle" class="tk">4</text>
<text x="500.90" y="903.60" text-anchor="middle" class="tk">5</text>
<text x="576.90" y="903.60" text-anchor="middle" class="tk">6</text>
<text transform="translate(37.50,910.00) rotate(-90)" class="ax">Potential vs. Li/Li<tspan dy="-23" font-size="23">+</tspan><tspan dy="23"> [V]</tspan></text>
<text x="244.50" y="966.00" class="ax">"Li<tspan dy="17" font-size="25">x</tspan><tspan dy="-17">Cu</tspan><tspan dy="17" font-size="25">3</tspan><tspan dy="-17">B</tspan><tspan dy="17" font-size="25">2</tspan><tspan dy="-17">O</tspan><tspan dy="17" font-size="25">6</tspan><tspan dy="-17">"</tspan></text>
<text x="5.50" y="966.00" class="pl">(c)</text>
<rect x="169.80" y="607.00" width="119.5" height="59.7" fill="#fff" stroke="#111" stroke-width="2.6"/>
<text x="229.55" y="650.60" text-anchor="middle" class="bt">C/20</text>
<path d="M783.40 549.50V860.17M859.40 549.50V860.17M935.40 549.50V860.17M1011.40 549.50V860.17M1087.40 549.50V860.17M1163.40 549.50V860.17M1239.40 549.50V860.17M764.40 841.90H1277.40M764.40 768.80H1277.40M764.40 695.70H1277.40M764.40 622.60H1277.40" stroke="#eeeeee" stroke-width="1.5" fill="none"/>
<path d="M783.4 697.2L783.4 780.5L783.4 770.3L785.0 768.0L786.5 766.8L789.6 765.4L791.2 765.1L800.5 764.2L811.3 763.7L865.6 764.5L995.8 768.3L1068.7 769.6L1078.0 770.2L1099.6 772.5L1124.5 774.1L1136.9 775.4L1143.1 776.5L1150.9 778.8L1160.2 782.4L1166.4 785.4L1172.6 789.7L1181.9 797.0L1195.8 809.4L1205.1 818.3L1209.8 822.1L1212.9 824.0L1216.0 825.3L1229.9 828.8L1236.1 831.2L1240.8 834.9L1247.0 841.9L1241.6 819.4L1236.2 799.5L1220.0 745.3L1215.7 729.1L1214.6 726.3L1213.6 724.9L1209.2 722.5L1203.8 720.2L1198.4 718.5L1191.9 717.1L1174.6 714.4L1150.8 709.8L1134.6 707.2L1122.7 705.9L1098.9 704.5L1089.2 703.4L1084.9 702.4L1081.6 700.2L1078.4 696.7L1074.1 690.7L1070.8 683.8L1066.5 669.4L1061.3 641.8L1058.9 632.0L1055.7 620.6L1050.3 605.9L1031.9 564.1M1031.9 564.1L1031.9 760.8L1031.9 754.2L1035.0 752.0L1039.3 749.6L1045.6 748.2L1055.1 746.8L1063.5 746.2L1070.9 746.2L1082.5 747.4L1122.6 752.7L1137.3 755.0L1148.9 757.5L1174.2 763.9L1191.1 767.0L1197.6 768.8L1200.6 770.4L1203.7 773.3L1206.9 777.0L1210.1 781.5L1222.7 809.9L1226.9 817.0L1238.5 832.9L1239.6 835.0L1241.7 841.9L1233.7 803.7L1220.0 746.8L1216.4 730.4L1215.0 726.3L1211.4 722.3L1207.8 719.6L1188.3 710.0L1179.6 706.8L1165.9 704.0L1160.1 701.9L1157.2 700.1L1153.6 697.2L1150.0 693.4L1147.1 689.8L1143.5 682.7L1139.0 669.8L1132.7 641.8L1129.1 629.3L1125.5 618.9L1119.0 604.3L1098.0 564.1M1098.0 564.1L1098.0 752.7L1101.8 751.6L1116.1 751.7L1124.7 752.7L1145.0 756.6L1176.7 764.5L1191.9 767.2L1196.9 768.6L1199.8 769.9L1202.0 771.6L1204.9 774.5L1209.9 781.2L1222.9 810.3L1227.2 817.4L1238.1 832.1L1239.5 834.8L1241.7 841.9L1243.2 841.9L1237.8 815.8L1230.1 783.4L1216.5 728.6L1214.4 723.9L1212.4 720.3L1204.5 710.3L1200.8 707.0L1194.0 703.2L1187.8 698.3L1183.6 693.9L1179.9 688.4L1176.8 680.2L1173.6 669.2L1168.5 641.8L1165.2 628.8L1162.1 618.3L1156.9 604.5L1139.1 564.1M1139.1 564.1L1139.1 762.7L1139.1 759.7L1142.2 759.4L1166.9 770.1L1177.2 775.1L1193.2 783.8L1201.5 788.8L1208.7 794.0L1217.4 801.6L1221.6 805.8L1223.6 808.5L1228.3 816.3L1241.7 841.9L1244.6 841.9L1242.9 833.9L1238.4 813.1L1232.5 788.9L1222.7 749.5L1218.4 733.7L1217.2 728.0L1215.2 715.8L1213.4 708.1L1212.2 704.8L1210.5 701.8L1208.4 699.4L1203.4 695.1L1201.4 692.8L1199.3 689.5L1197.6 685.6L1195.5 678.9L1193.1 669.2L1188.5 642.1L1185.6 629.1L1182.7 618.2L1178.1 604.9L1161.9 564.1M1161.9 564.1L1161.9 763.3L1161.9 760.6L1164.7 760.1L1167.1 760.9L1175.5 765.6L1183.5 771.0L1194.4 779.3L1202.8 786.2L1210.0 792.9L1218.0 801.5L1224.0 809.4L1229.6 819.1L1241.7 841.9L1245.8 841.9L1237.1 803.4L1213.7 709.7L1210.9 696.3L1206.2 669.9L1200.1 640.9L1194.8 621.7L1176.3 564.1M1176.3 564.1L1176.3 763.9L1176.3 761.5L1177.6 760.9L1178.9 760.8L1181.6 761.6L1186.2 764.4L1191.8 769.6L1207.5 787.4L1216.4 798.7L1223.9 809.6L1234.1 827.4L1241.7 841.9L1246.9 841.9L1238.2 804.4L1219.6 730.4L1214.8 704.9L1209.2 667.4L1203.7 636.0L1199.9 620.0L1185.4 564.1M1185.4 564.1L1185.4 764.5L1185.4 762.4L1187.1 761.6L1188.8 761.6L1193.4 763.9L1196.5 767.2L1213.7 793.5L1225.0 811.6L1234.1 827.3L1241.7 841.9L1247.8 841.9L1239.0 804.3L1220.9 731.5L1217.0 708.0L1211.9 667.9L1207.1 636.1L1204.0 620.3L1191.5 564.1M1191.5 564.1L1191.5 765.1L1191.5 763.3L1193.0 762.4L1194.3 762.2L1196.1 762.7L1198.1 763.7L1199.6 764.8L1200.6 766.1L1206.1 777.8L1212.4 789.6L1221.8 806.4L1233.6 826.4L1241.7 841.9L1248.6 841.9L1239.9 804.7L1222.1 732.6L1218.5 710.0L1213.6 669.1L1209.0 636.5L1206.0 620.4L1194.2 564.1M1194.2 564.1L1194.2 765.8L1194.2 764.2L1195.6 763.2L1196.8 763.0L1200.2 764.1L1201.8 765.2L1202.8 766.3L1207.6 778.4L1215.9 795.4L1222.6 807.9L1233.8 826.8L1241.7 841.9L1249.4 841.9L1223.3 733.7L1219.9 710.9L1215.4 671.4L1210.9 638.0L1207.9 621.4L1196.5 564.1M1196.5 564.1L1196.5 766.4L1196.5 765.1L1197.9 764.0L1199.0 763.7L1202.0 764.5L1204.1 765.9L1204.7 766.6L1205.8 769.3L1208.8 779.0L1216.7 796.6L1223.1 808.8L1234.1 827.3L1241.7 841.9L1250.0 841.9L1229.6 756.0L1226.2 742.8L1224.4 734.3L1221.0 710.5L1216.9 672.8L1212.5 638.8L1209.7 622.0L1198.5 564.1M1198.5 564.1L1198.5 767.0L1198.5 766.1L1199.8 764.8L1200.9 764.4L1203.9 765.2L1206.1 766.6L1206.6 767.2L1209.8 779.4L1213.3 788.5L1217.0 796.8L1222.6 808.1L1233.4 826.1L1241.7 841.9L1250.6 841.9L1227.3 743.7L1225.7 735.9L1222.5 713.2L1218.0 670.9L1213.9 639.1L1211.2 622.2L1200.3 564.1M1200.3 564.1L1200.3 767.6L1200.3 767.0L1201.1 766.0L1202.6 765.1L1205.3 765.7L1208.0 767.4L1208.6 769.2L1211.1 781.1L1213.8 789.0L1216.9 796.5L1223.0 808.8L1233.6 826.4L1241.7 841.9L1251.1 841.9L1230.8 757.1L1227.3 743.6L1225.7 735.9L1223.1 716.6L1218.4 670.6L1214.4 637.7L1212.0 621.9L1201.8 564.1M1201.8 564.1L1201.8 768.2L1203.0 766.5L1204.1 765.9L1206.8 766.4L1209.4 768.1L1211.8 781.6L1214.2 789.5L1216.8 796.2L1223.2 809.4L1233.5 826.2L1241.7 841.9L1251.5 841.9L1230.9 757.0L1227.5 744.2L1225.7 735.9L1223.3 717.3L1218.7 669.5L1215.1 637.6L1212.6 621.2L1203.1 564.1M1203.1 564.1L1203.1 768.8L1204.5 767.1L1205.4 766.6L1208.2 767.1L1210.7 768.8L1212.4 782.0L1214.6 790.1L1216.9 796.5L1223.5 809.9L1233.5 826.3L1241.7 841.9L1251.9 841.9L1230.9 756.7L1227.5 744.4L1225.7 735.9L1223.4 717.3L1219.4 672.7L1215.8 639.0L1213.4 621.8L1204.3 564.1M1204.3 564.1L1204.3 768.8L1205.6 767.1L1206.6 766.6L1209.6 767.1L1211.9 768.8L1212.9 781.9L1214.6 789.9L1216.7 796.3L1223.6 810.3L1233.4 826.1L1241.7 841.9L1252.3 841.9L1231.0 757.1L1227.5 744.4L1225.7 735.9L1223.7 719.0L1219.5 670.5L1216.2 638.3L1214.0 622.3L1205.3 564.1M1205.3 564.1L1205.3 768.8L1206.6 767.2L1207.6 766.6L1210.6 767.1L1212.9 768.8L1213.3 781.5L1215.0 791.3L1216.8 797.6L1220.5 804.0L1224.9 812.6L1233.8 826.8L1241.7 841.9L1252.6 841.9L1231.1 757.1L1227.4 744.0L1225.7 735.9L1223.9 720.2L1219.9 672.8L1216.7 639.2L1214.6 622.5L1206.2 564.1M1206.2 564.1L1206.2 768.8L1207.6 766.9L1208.5 766.6L1209.0 767.1L1210.1 769.9L1212.4 778.6L1213.1 780.2L1213.7 780.6L1213.8 768.8L1214.4 769.4L1216.0 775.5L1219.6 798.3L1221.2 805.3L1224.7 813.1L1233.5 826.2L1241.7 841.9L1252.9 841.9L1231.1 757.1L1227.5 744.3L1225.7 735.9L1224.0 720.7L1219.9 669.2L1216.9 637.7L1206.9 564.1M1206.9 564.1L1206.9 768.8L1208.3 766.9L1209.2 766.6L1209.7 767.0L1210.6 769.4L1212.9 778.6L1213.6 780.3L1214.1 780.6L1214.5 768.8L1215.1 769.5L1216.4 774.6L1219.7 798.3L1221.3 805.6L1224.7 813.3L1233.5 826.2L1241.7 841.9L1253.1 841.9L1231.1 756.9L1227.5 744.4L1225.7 735.5L1224.1 720.6L1220.2 670.5L1217.2 637.9L1207.6 564.1M1207.6 564.1L1207.6 768.8L1209.0 766.9L1209.9 766.6L1210.3 767.0L1211.2 769.5L1213.3 778.4L1213.8 779.9L1214.4 780.6L1215.1 769.0L1215.3 768.8L1215.7 769.3L1216.9 774.7L1219.9 799.1L1221.3 805.8L1224.9 813.8L1233.5 826.2L1241.7 841.9L1253.3 841.9L1231.1 756.5L1227.5 744.3L1225.7 735.9L1224.1 719.9L1220.4 671.4L1217.5 638.0L1208.2 564.1M1208.2 564.1L1208.2 768.8L1209.5 766.9L1210.5 766.6L1210.9 767.0L1211.7 769.6L1213.7 778.9L1214.7 780.6L1215.6 769.8L1215.8 768.8L1216.1 769.1L1217.4 776.0L1220.3 801.1L1221.5 806.3L1225.0 814.2L1233.4 826.2L1241.7 841.9L1253.5 841.9L1231.2 756.8L1227.6 744.9L1225.7 735.9L1224.2 721.3L1220.4 669.1L1217.7 637.7L1208.7 564.1M1208.7 564.1L1208.7 768.8L1209.8 766.9L1211.0 766.6L1211.3 767.0L1212.2 769.7L1214.0 778.7L1214.9 780.6L1216.1 769.1L1216.3 768.8L1216.6 769.3L1217.8 776.2L1220.3 800.5L1221.5 806.2L1223.1 810.5L1224.9 814.2L1226.9 817.4L1233.4 826.1L1241.7 841.9L1253.6 841.9L1231.3 757.0L1227.5 744.4L1225.7 735.6L1224.3 722.4L1220.8 672.1L1218.1 639.5L1209.1 564.1M1209.1 564.1L1209.1 768.8L1210.3 766.9L1211.4 766.6L1211.7 766.9L1214.2 778.4L1215.1 780.6L1216.5 769.5L1216.7 768.8L1217.0 769.1L1218.1 776.4L1220.4 800.9L1221.6 806.6L1223.2 810.9L1225.0 814.5L1227.0 817.6L1233.3 826.0L1241.7 841.9L1253.8 841.9L1231.3 757.0L1227.5 744.6L1225.7 735.9L1224.4 723.0L1220.9 671.8L1218.2 638.8L1209.5 564.1M1209.5 564.1L1209.5 768.8L1210.6 766.9L1211.8 766.6L1212.1 766.9L1214.5 778.8L1215.3 780.6L1216.8 769.8L1216.9 769.1L1217.3 769.0L1218.2 775.0L1220.5 801.2L1221.6 806.8L1223.2 811.1L1225.0 814.7L1227.0 817.8L1233.4 826.2L1241.7 841.9L1253.9 841.9L1231.3 757.0L1227.6 744.8L1225.7 735.9L1224.5 723.2L1220.9 671.2L1218.2 637.9L1209.8 564.1M1209.8 564.1L1209.8 769.9L1215.8 790.7L1220.9 804.7L1224.9 812.5L1233.8 826.8L1241.7 841.9L1254.0 841.9L1231.3 756.8L1227.5 744.8L1225.7 735.9L1224.5 723.0L1221.2 673.4L1218.5 639.2L1210.1 564.1M1210.1 564.1L1210.1 774.5L1216.0 792.5L1221.1 805.1L1224.9 812.4L1233.7 826.7L1241.7 841.9L1254.1 841.9L1231.3 756.6L1227.5 744.7L1225.7 735.9L1224.4 722.5L1221.1 672.3L1218.5 637.9L1210.4 564.1M1210.4 564.1L1210.4 778.5L1216.2 794.1L1221.2 805.5L1224.8 812.1L1233.7 826.5L1241.7 841.9L1254.2 841.9L1231.4 757.1L1227.7 745.3L1225.7 735.9L1224.4 721.7L1221.3 674.0L1218.7 639.0L1210.6 564.1M1210.6 564.1L1210.6 782.0L1216.1 794.8L1221.2 805.3L1233.6 826.3L1241.7 841.9L1254.3 841.9L1231.3 756.7L1227.6 745.0L1225.7 735.9L1224.6 723.6L1221.1 669.2L1218.6 637.4L1210.8 564.1M1210.8 564.1L1210.8 785.0L1220.6 804.2L1233.4 826.1L1241.7 841.9L1254.4 841.9L1231.4 757.1L1227.5 744.7L1225.7 735.9L1224.5 722.3L1221.2 670.5L1218.8 638.2L1210.9 564.1M1210.9 564.1L1210.9 787.7L1232.7 824.8L1241.7 841.9L1254.4 841.9L1231.3 756.7L1227.6 745.1L1225.7 735.9L1224.6 723.8L1221.3 671.7L1218.9 638.9L1211.1 564.1M1211.1 564.1L1211.1 790.0L1219.2 802.3L1227.8 816.4L1235.1 829.1L1241.7 841.9L1254.5 841.9L1231.4 756.9L1227.7 745.5L1225.7 735.9L1224.5 722.0L1221.5 674.1L1219.0 639.6L1211.2 564.1M1211.2 564.1L1211.2 792.0L1218.1 800.9L1224.8 811.1L1234.5 828.0L1241.7 841.9L1254.5 841.9L1231.5 757.1L1227.6 745.0L1225.7 735.9L1224.6 723.2L1221.3 670.4L1218.9 637.5L1211.3 564.1M1211.3 564.1L1211.3 793.7L1217.9 801.0L1224.1 809.8L1234.5 828.1L1241.7 841.9L1254.6 841.9L1231.4 756.6L1227.7 745.3L1225.7 735.9L1224.6 724.2L1221.4 671.2L1219.0 638.0L1211.4 564.1M1211.4 564.1L1211.4 795.2L1214.5 797.8L1217.6 801.1L1221.3 805.5L1223.9 809.2L1229.7 819.1L1241.7 841.9L1254.6 841.9M1070.7 746.1L1070.7 795.1M1019.8 769.5L1019.8 773.9M1235.6 795.8L1235.6 849.2M1245.5 790.7L1245.5 815.6" fill="none" stroke="#0a0ab8" stroke-width="1.85" stroke-linejoin="round"/>
<path d="M783.40 860.17v-10.5M783.40 549.50v10.5M821.40 860.17v-5.5M821.40 549.50v5.5M859.40 860.17v-10.5M859.40 549.50v10.5M897.40 860.17v-5.5M897.40 549.50v5.5M935.40 860.17v-10.5M935.40 549.50v10.5M973.40 860.17v-5.5M973.40 549.50v5.5M1011.40 860.17v-10.5M1011.40 549.50v10.5M1049.40 860.17v-5.5M1049.40 549.50v5.5M1087.40 860.17v-10.5M1087.40 549.50v10.5M1125.40 860.17v-5.5M1125.40 549.50v5.5M1163.40 860.17v-10.5M1163.40 549.50v10.5M1201.40 860.17v-5.5M1201.40 549.50v5.5M1239.40 860.17v-10.5M1239.40 549.50v10.5M764.40 841.90h10.5M1277.40 841.90h-10.5M764.40 805.35h5.5M1277.40 805.35h-5.5M764.40 768.80h10.5M1277.40 768.80h-10.5M764.40 732.25h5.5M1277.40 732.25h-5.5M764.40 695.70h10.5M1277.40 695.70h-10.5M764.40 659.15h5.5M1277.40 659.15h-5.5M764.40 622.60h10.5M1277.40 622.60h-10.5M764.40 586.05h5.5M1277.40 586.05h-5.5M764.40 549.50h10.5M1277.40 549.50h-10.5" stroke="#1a1a1a" stroke-width="2.3" fill="none"/>
<rect x="764.40" y="549.50" width="513.00" height="310.67" stroke="#1a1a1a" stroke-width="2.6" fill="none"/>
<path d="M746.00 824.80L746.00 854.00L742.20 854.00L742.20 831.70L735.40 836.00L734.40 832.50L742.70 824.80Z" fill="#111" stroke="#111" stroke-width="0.5" stroke-linejoin="round"/>
<text x="752.40" y="780.60" text-anchor="end" class="tk">2</text>
<text x="752.40" y="707.50" text-anchor="end" class="tk">3</text>
<text x="752.40" y="634.40" text-anchor="end" class="tk">4</text>
<text x="752.40" y="561.30" text-anchor="end" class="tk">5</text>
<text x="783.70" y="903.60" text-anchor="middle" class="tk">0</text>
<path d="M863.70 874.70L863.70 903.90L859.90 903.90L859.90 881.60L853.10 885.90L852.10 882.40L860.40 874.70Z" fill="#111" stroke="#111" stroke-width="0.5" stroke-linejoin="round"/>
<text x="935.70" y="903.60" text-anchor="middle" class="tk">2</text>
<text x="1011.70" y="903.60" text-anchor="middle" class="tk">3</text>
<text x="1087.70" y="903.60" text-anchor="middle" class="tk">4</text>
<text x="1163.70" y="903.60" text-anchor="middle" class="tk">5</text>
<text x="1239.70" y="903.60" text-anchor="middle" class="tk">6</text>
<text transform="translate(700.30,910.00) rotate(-90)" class="ax">Potential vs. Li/Li<tspan dy="-23" font-size="23">+</tspan><tspan dy="23"> [V]</tspan></text>
<text x="907.30" y="966.00" class="ax">"Li<tspan dy="17" font-size="25">x</tspan><tspan dy="-17">Cu</tspan><tspan dy="17" font-size="25">3</tspan><tspan dy="-17">B</tspan><tspan dy="17" font-size="25">2</tspan><tspan dy="-17">O</tspan><tspan dy="17" font-size="25">6</tspan><tspan dy="-17">"</tspan></text>
<text x="665.60" y="966.00" class="pl">(d)</text>
<rect x="841.10" y="607.00" width="119.5" height="59.7" fill="#fff" stroke="#111" stroke-width="2.6"/>
<text x="900.85" y="650.60" text-anchor="middle" class="bt">C/10</text>
</svg>
</body></html>
